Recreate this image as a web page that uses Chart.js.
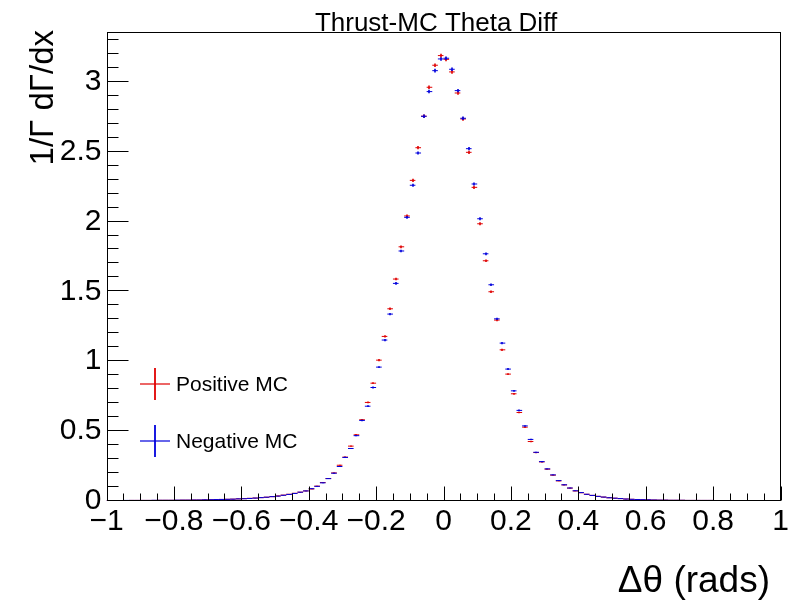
<!DOCTYPE html>
<html>
<head>
<meta charset="utf-8">
<script src="https://cdn.jsdelivr.net/npm/chart.js@4/dist/chart.umd.min.js"></script>
<style>
  body { margin: 0; background: #fff; }
</style>
</head>
<body>
<canvas id="chart" width="810" height="603"></canvas>
<script>
// histogram binning: 120 bins between -1 and 1
const nBins = 120;
const xMin = -1;
const xMax = 1;

// 1/Γ dΓ/dx per bin
const positiveMC = [
    0.001, 0.001, 0.001, 0.001, 0.002, 0.002, 0.002, 0.002, 0.002, 0.003,
    0.003, 0.003, 0.003, 0.004, 0.004, 0.005, 0.005, 0.006, 0.007, 0.008,
    0.009, 0.010, 0.011, 0.013, 0.015, 0.017, 0.019, 0.022, 0.025, 0.029,
    0.034, 0.040, 0.046, 0.053, 0.061, 0.070, 0.084, 0.104, 0.130, 0.159,
    0.199, 0.254, 0.312, 0.391, 0.472, 0.580, 0.704, 0.842, 1.007, 1.177,
    1.375, 1.588, 1.819, 2.040, 2.295, 2.529, 2.755, 2.962, 3.120, 3.189,
    3.162, 3.072, 2.921, 2.735, 2.496, 2.245, 1.984, 1.719, 1.497, 1.294,
    1.081, 0.907, 0.766, 0.632, 0.527, 0.424, 0.345, 0.278, 0.226, 0.183,
    0.142, 0.113, 0.090, 0.070, 0.057, 0.046, 0.038, 0.031, 0.026, 0.021,
    0.018, 0.015, 0.012, 0.010, 0.008, 0.007, 0.006, 0.005, 0.004, 0.004,
    0.003, 0.003, 0.003, 0.002, 0.002, 0.002, 0.002, 0.002, 0.001, 0.001,
    0.001, 0.001, 0.001, 0.001, 0.001, 0.001, 0.001, 0.001, 0.001, 0.001
];
const negativeMC = [
    0.001, 0.001, 0.001, 0.002, 0.002, 0.002, 0.002, 0.002, 0.003, 0.003,
    0.003, 0.003, 0.004, 0.004, 0.004, 0.005, 0.005, 0.006, 0.007, 0.008,
    0.009, 0.010, 0.011, 0.013, 0.014, 0.016, 0.019, 0.022, 0.025, 0.029,
    0.033, 0.039, 0.045, 0.052, 0.061, 0.070, 0.086, 0.103, 0.128, 0.158,
    0.197, 0.245, 0.310, 0.374, 0.466, 0.575, 0.677, 0.811, 0.957, 1.151,
    1.337, 1.557, 1.789, 2.030, 2.260, 2.491, 2.754, 2.931, 3.081, 3.165,
    3.170, 3.091, 2.938, 2.740, 2.522, 2.269, 2.020, 1.769, 1.547, 1.303,
    1.129, 0.943, 0.787, 0.647, 0.536, 0.439, 0.347, 0.280, 0.228, 0.185,
    0.144, 0.114, 0.091, 0.071, 0.058, 0.046, 0.038, 0.031, 0.026, 0.021,
    0.018, 0.015, 0.012, 0.010, 0.008, 0.007, 0.006, 0.005, 0.004, 0.004,
    0.003, 0.003, 0.003, 0.002, 0.002, 0.002, 0.002, 0.002, 0.001, 0.001,
    0.001, 0.001, 0.001, 0.001, 0.001, 0.001, 0.001, 0.001, 0.001, 0.001
];

const xTicks = [-1, -0.8, -0.6, -0.4, -0.2, 0, 0.2, 0.4, 0.6, 0.8, 1];
const yTicks = [0, 0.5, 1, 1.5, 2, 2.5, 3];
const yMax = 3.358;

const FONT = "'Liberation Sans', Arial, sans-serif";
const RED = '#e00000';
const BLUE = '#0000dd';
const ERR_SCALE = 0.0073; // stat. error ~ sqrt(content)

const binWidth = (xMax - xMin) / nBins;
const binCenters = positiveMC.map((_, k) => xMin + (k + 0.5) * binWidth);
const fmt = v => String(Math.round(v * 10) / 10).replace('-', '\u2212');

// ROOT-like drawing: error crosses, inward ticks, frame, titles, legend
const rootStyle = {
    id: 'rootStyle',
    afterDatasetsDraw(chart) {
        const { ctx, chartArea, scales: { x, y } } = chart;
        ctx.save();
        ctx.beginPath();
        ctx.rect(chartArea.left, chartArea.top, chartArea.right - chartArea.left, chartArea.bottom - chartArea.top);
        ctx.clip();
        chart.data.datasets.forEach(ds => {
            ctx.strokeStyle = ds.borderColor;
            ctx.lineWidth = 1;
            ctx.beginPath();
            ds.data.forEach(p => {
                const py = y.getPixelForValue(p.y);
                ctx.moveTo(x.getPixelForValue(p.x - binWidth / 2), py);
                ctx.lineTo(x.getPixelForValue(p.x + binWidth / 2), py);
            });
            ctx.stroke();
            ctx.lineWidth = 1.6;
            ctx.beginPath();
            ds.data.forEach(p => {
                const px = Math.round(x.getPixelForValue(p.x));
                const e = ERR_SCALE * Math.sqrt(p.y);
                ctx.moveTo(px, y.getPixelForValue(p.y + e));
                ctx.lineTo(px, y.getPixelForValue(p.y - e));
            });
            ctx.stroke();
        });
        ctx.restore();
    },
    afterDraw(chart) {
        const { ctx, chartArea: a, scales: { x, y } } = chart;
        ctx.save();
        ctx.strokeStyle = '#000';
        ctx.lineWidth = 1;
        const L = Math.round(a.left) + 0.5, R = Math.round(a.right) - 0.5;
        const T = Math.round(a.top) + 0.5, B = Math.round(a.bottom) - 0.5;
        ctx.strokeRect(L, T, R - L, B - T);

        ctx.beginPath();
        for (let j = 0; j <= 33; j++) {
            const py = Math.round(y.getPixelForValue(j / 10)) - 0.5;
            ctx.moveTo(L, py);
            ctx.lineTo(L + (j % 5 === 0 ? 21 : 11), py);
        }
        for (let j = -20; j <= 20; j++) {
            const px = Math.round(x.getPixelForValue(j / 20)) + 0.5;
            ctx.moveTo(px, B);
            ctx.lineTo(px, B - (j % 4 === 0 ? 14 : 7));
        }
        ctx.stroke();

        ctx.fillStyle = '#000';
        ctx.font = `26px ${FONT}`;
        ctx.textAlign = 'center';
        ctx.textBaseline = 'alphabetic';
        ctx.fillText('Thrust-MC Theta Diff', 436, 31);

        ctx.font = `37px ${FONT}`;
        ctx.textAlign = 'right';
        ctx.fillText('\u0394\u03b8 (rads)', 770, 592);

        ctx.save();
        ctx.translate(44, 30);
        ctx.rotate(-Math.PI / 2);
        ctx.font = `33px ${FONT}`;
        ctx.textAlign = 'right';
        ctx.textBaseline = 'middle';
        ctx.fillText('1/\u0393 d\u0393/dx', 0, 0);
        ctx.restore();

        // legend
        chart.data.datasets.forEach((ds, i) => {
            const cy = 384 + i * 57;
            ctx.strokeStyle = ds.borderColor;
            ctx.lineWidth = 1.2;
            ctx.beginPath();
            ctx.moveTo(140, cy);
            ctx.lineTo(170, cy);
            ctx.stroke();
            ctx.lineWidth = 1.8;
            ctx.beginPath();
            ctx.moveTo(155, cy - 16);
            ctx.lineTo(155, cy + 16);
            ctx.stroke();
            ctx.fillStyle = '#000';
            ctx.font = `21px ${FONT}`;
            ctx.textAlign = 'left';
            ctx.textBaseline = 'middle';
            ctx.fillText(ds.label, 176, cy + 1);
        });
        ctx.restore();
    }
};

new Chart(document.getElementById('chart').getContext('2d'), {
    type: 'scatter',
    data: {
        datasets: [
            {
                label: 'Positive MC',
                data: binCenters.map((c, k) => ({ x: c, y: positiveMC[k] })),
                borderColor: RED,
                backgroundColor: RED,
                pointRadius: 0
            },
            {
                label: 'Negative MC',
                data: binCenters.map((c, k) => ({ x: c, y: negativeMC[k] })),
                borderColor: BLUE,
                backgroundColor: BLUE,
                pointRadius: 0
            }
        ]
    },
    options: {
        responsive: false,
        animation: false,
        layout: { padding: { left: 0, top: 32, right: 29.5, bottom: 0 } },
        plugins: {
            legend: { display: false },
            title: { display: false },
            tooltip: { enabled: false }
        },
        scales: {
            x: {
                type: 'linear',
                min: xMin,
                max: xMax,
                grid: { display: false, drawTicks: false },
                border: { display: false },
                afterBuildTicks: s => { s.ticks = xTicks.map(v => ({ value: v })); },
                afterFit: s => { s.height = 102.3; },
                ticks: {
                    autoSkip: false,
                    maxRotation: 0,
                    padding: 3,
                    color: '#000',
                    font: { family: FONT, size: 30 },
                    callback: v => fmt(v)
                }
            },
            y: {
                type: 'linear',
                min: 0,
                max: yMax,
                grid: { display: false, drawTicks: false },
                border: { display: false },
                afterBuildTicks: s => { s.ticks = yTicks.map(v => ({ value: v })); },
                afterFit: s => { s.width = 106.5; },
                ticks: {
                    padding: 5,
                    color: '#000',
                    font: { family: FONT, size: 30 },
                    callback: v => fmt(v)
                }
            }
        }
    },
    plugins: [rootStyle]
});
</script>
</body>
</html>
